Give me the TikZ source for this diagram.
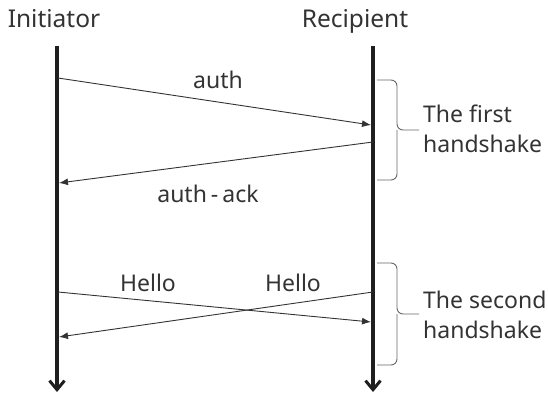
\documentclass[tikz,border=0pt]{standalone}
\usepackage{fontspec}
\setmainfont{Noto Sans}
\usetikzlibrary{arrows.meta}
\tikzset{
  lifeline/.style={line width=3.6pt, draw=black!88,
    -{Straight Barb[length=9pt,width=15pt,line width=3pt]}},
  msg/.style={line width=0.9pt, draw=black!80, -{Latex[length=9pt,width=7pt]}},
  brc/.style={line width=0.9pt, draw=black!60, rounded corners=6pt},
  head/.style={font=\fontsize{24.5}{30}\selectfont, text=black!80, anchor=base, inner sep=0pt},
  lbl/.style={font=\fontsize{23}{27}\selectfont, text=black!80, anchor=base, inner sep=0pt},
  side/.style={font=\fontsize{23}{31}\selectfont, text=black!80, anchor=base west, inner sep=0pt, align=left},
}
\begin{document}
\begin{tikzpicture}[x=1pt,y=-1pt]
\useasboundingbox (0,0) rectangle (548,395);

% participants
\node[head] (ini) at (54,28) {Initiator};
\node[head] (rec) at (355,28) {Recipient};

% lifelines
\coordinate (iTop) at (57,46);
\coordinate (iBot) at (57,392);
\coordinate (rTop) at (373,46);
\coordinate (rBot) at (373,392);
\draw[lifeline] (iTop) -- (iBot);
\draw[lifeline] (rTop) -- (rBot);

% message end points on the lifelines
\coordinate (a1) at (58,78);
\coordinate (a2) at (371,125);
\coordinate (b1) at (373,142);
\coordinate (b2) at (59,183);
\coordinate (c1) at (58,292);
\coordinate (c2) at (371,322);
\coordinate (d1) at (373,292);
\coordinate (d2) at (59,337);

% first handshake
\draw[msg] (a1) -- (a2);
\draw[msg] (b1) -- (b2);
\node[lbl] (auth) at (218,89) {auth};
\node[lbl] (ack) at (208,203) {auth\kern4pt-\kern4pt ack};

% second handshake
\draw[msg] (c1) -- (c2);
\draw[msg] (d1) -- (d2);
\node[lbl] (h1) at (148,291) {Hello};
\node[lbl] (h2) at (293,291) {Hello};

% braces
\draw[brc] (377,80) -- (397,80) -- (397,130) -- (419,130);
\draw[brc] (377,180) -- (397,180) -- (397,130);
\draw[brc] (377,263) -- (397,263) -- (397,314) -- (419,314);
\draw[brc] (377,365) -- (397,365) -- (397,314);

\node[side] (g1) at (423,123) {The first};
\node[side] (g1b) at (423,153) {handshake};
\node[side] (g2) at (423,308) {The second};
\node[side] (g2b) at (423,338) {handshake};
\end{tikzpicture}
\end{document}
